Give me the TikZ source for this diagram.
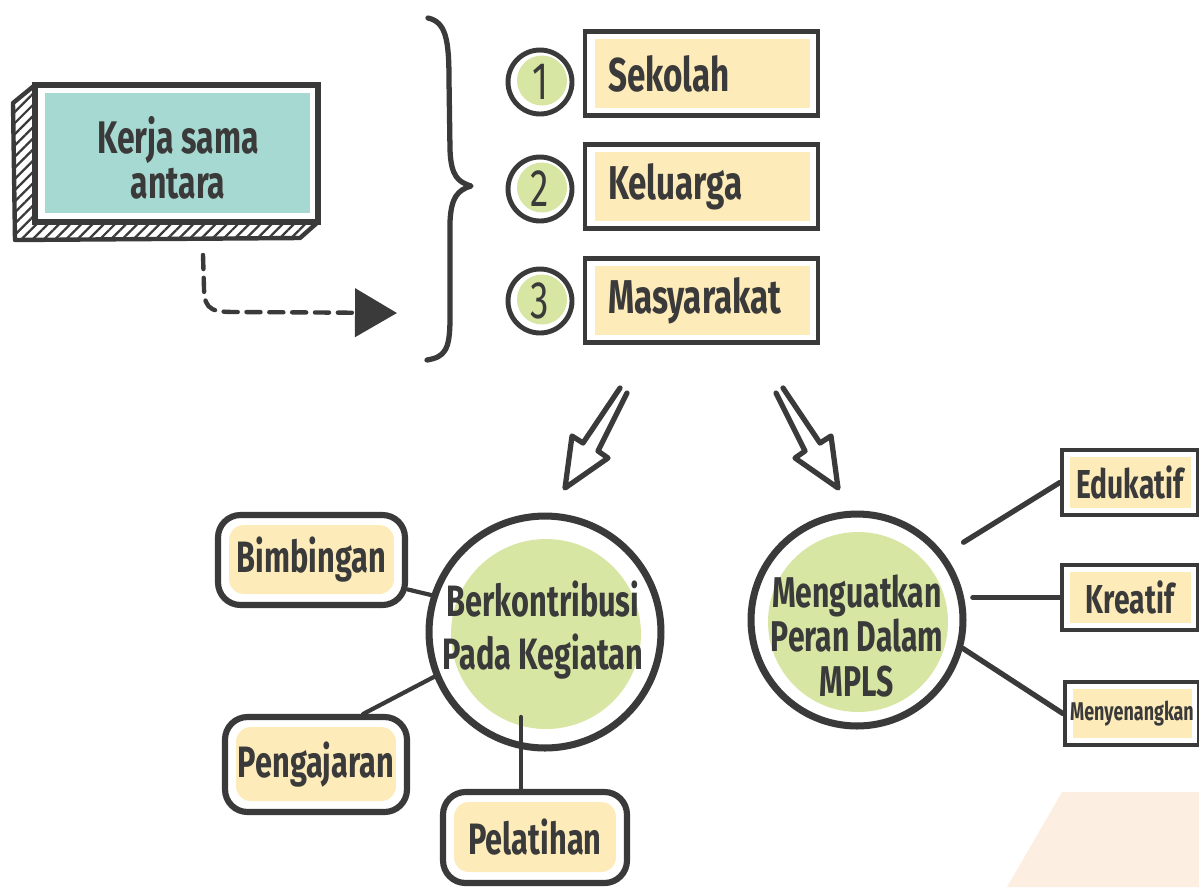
\documentclass[tikz,border=0pt]{standalone}
\usepackage{fontspec}
\newfontfamily\hand[FakeStretch=0.7]{Fira Sans}
\usetikzlibrary{arrows.meta,patterns.meta,calc}
\definecolor{ink}{HTML}{3A3A3A}
\definecolor{cteal}{HTML}{A6D9D1}
\definecolor{cgreen}{HTML}{D8E6A3}
\definecolor{cyel}{HTML}{FDEBBA}
\definecolor{cpeach}{HTML}{FDEEE2}
\tikzset{
  txt/.style={text=ink, font=\hand\bfseries\fontsize{#1}{#1}\selectfont},
  listbox/.style={rectangle, draw=ink, line width=2.8pt, fill=white,
    minimum width=4.66cm, minimum height=1.68cm, text width=3.74cm, inner xsep=0.46cm,
    align=left, txt=27,
    path picture={\fill[cyel] ([shift={(0.2cm,0.16cm)}]path picture bounding box.south west) rectangle ([shift={(-0.16cm,-0.14cm)}]path picture bounding box.north east);}},
  numcirc/.style={circle, draw=ink, line width=2.8pt, fill=white, minimum size=1.28cm, inner sep=0pt,
    text=ink, font=\hand\fontsize{30}{30}\selectfont,
    path picture={\fill[cgreen] ([shift={(0.04cm,0.03cm)}]path picture bounding box.center) circle (0.5cm);}},
  bigcirc/.style={circle, draw=ink, line width=4pt, fill=white, inner sep=0pt,
    path picture={\fill[cgreen] ([shift={(0.02cm,-0.04cm)}]path picture bounding box.center) circle (#1);}},
  rbox/.style={rectangle, rounded corners=0.45cm, draw=ink, line width=3.5pt, fill=white, inner sep=0pt, txt=25,
    path picture={\fill[cyel, rounded corners=0.3cm] ([shift={(0.22cm,0.22cm)}]path picture bounding box.south west) rectangle ([shift={(-0.22cm,-0.2cm)}]path picture bounding box.north east);}},
  sbox/.style={rectangle, draw=ink, line width=2.5pt, fill=white, inner sep=0pt,
    minimum width=2.72cm, minimum height=1.3cm,
    path picture={\fill[cyel] ([shift={(0.16cm,0.14cm)}]path picture bounding box.south west) rectangle ([shift={(-0.14cm,-0.14cm)}]path picture bounding box.north east);}},
  conn/.style={draw=ink, line width=2.4pt, line cap=round},
}
\begin{document}
\begin{tikzpicture}[x=0.02cm, y=-0.02cm]
\useasboundingbox (0,0) rectangle (1199,887);

% background peach shape
\fill[cpeach] (1062,792) -- (1199,792) -- (1199,887) -- (1007,887) -- cycle;

% 3D box sides
\filldraw[draw=ink, line width=2.5pt, line join=round, pattern={Lines[angle=45,distance=4.5pt,line width=1.3pt]}, pattern color=ink]
  (35,85) -- (13,103) -- (15,240) -- (300,238) -- (318,222) -- (35,222) -- cycle;
\node[rectangle, draw=ink, line width=3pt, fill=white, minimum width=5.66cm, minimum height=2.74cm,
  path picture={\fill[cteal] ([shift={(0.2cm,0.18cm)}]path picture bounding box.south west) rectangle ([shift={(-0.16cm,-0.16cm)}]path picture bounding box.north east);}]
  (kerja) at (176.5,153.5) {};
\node[txt=26, align=center, font=\hand\bfseries\fontsize{26}{25.5}\selectfont] (kerjatxt) at (178,158) {Kerja sama\\antara};

% dashed arrow
\coordinate (dstart) at (203,255);
\coordinate (dend) at (397,313);
\draw[draw=ink, line width=2.5pt, dash pattern=on 8pt off 5pt, line cap=round,
  -{Triangle[length=0.84cm,width=0.96cm,fill=ink]}]
  (dstart) -- (204,288) .. controls (204,312) and (214,312) .. (240,312) -- (dend);

% brace
\draw[ink, line width=3pt, line cap=round, line join=round]
  (428,18) .. controls (446,22) and (449,40) .. (449,80) -- (450,150)
  .. controls (451,176) and (458,182) .. (471,186)
  .. controls (458,190) and (451,197) .. (450,222) -- (450,318)
  .. controls (450,350) and (445,357) .. (427,360);

% list
\node[numcirc] (n1) at (540,82) {1};
\node[numcirc] (n2) at (540,189) {2};
\node[numcirc] (n3) at (540,301) {3};
\node[listbox] (sek) at (701.5,73.5) {Sekolah};
\node[listbox] (kel) at (701.5,186.5) {Keluarga};
\node[listbox] (mas) at (701.5,300.5) {Masyarakat};

% hollow arrows
\draw[ink, line width=3pt, line join=round, line cap=round]
  (620,388) -- (583,443) -- (572,436) -- (565,488) -- (608,458) -- (598,451) -- (627,393);
\draw[ink, line width=3pt, line join=round, line cap=round]
  (783,388) -- (820,443) -- (831,436) -- (838,488) -- (795,458) -- (805,451) -- (776,393);

% left cluster
\node[bigcirc=1.9cm, minimum size=4.64cm] (lcirc) at (545,632) {};
\node[align=center, text=ink, font=\hand\bfseries\fontsize{25}{30.6}\selectfont] (lcirctxt) at (543,630) {Berkontribusi\\Pada Kegiatan};
\node[rbox, minimum width=3.74cm, minimum height=1.8cm] (bimb) at (311.5,560) {Bimbingan};
\node[rbox, minimum width=3.64cm, minimum height=1.9cm] (peng) at (316,764.5) {Pengajaran};
\node[rbox, minimum width=3.68cm, minimum height=1.82cm] (pel) at (535,837.5) {Pelatihan};
\draw[conn] (bimb.-17) -- (lcirc.162);
\draw[conn] (peng.47) -- (lcirc.202);
\draw[conn] ([xshift=-0.28cm]pel.north) -- ++(0,-72);

% right cluster
\node[bigcirc=1.8cm, minimum size=4.24cm] (rcirc) at (857,620) {};
\node[align=center, text=ink, font=\hand\bfseries\fontsize{24.5}{25.5}\selectfont] (rcirctxt) at (857,636) {Menguatkan\\Peran Dalam\\MPLS};
\node[sbox, txt=23] (edu) at (1130,482.5) {Edukatif};
\node[sbox, txt=23] (kre) at (1130,597.5) {Kreatif};
\node[sbox, txt=14.6, minimum width=2.68cm, minimum height=1.26cm] (meny) at (1132,713.5) {Menyenangkan};
\draw[conn, shorten <=0.45cm, line width=3pt] (rcirc.37) -- (edu.west);
\draw[conn, line width=3pt] (kre.west) -- ++(-87,0);
\draw[conn, line width=3pt] (rcirc.-15) -- (meny.west);
\end{tikzpicture}
\end{document}
